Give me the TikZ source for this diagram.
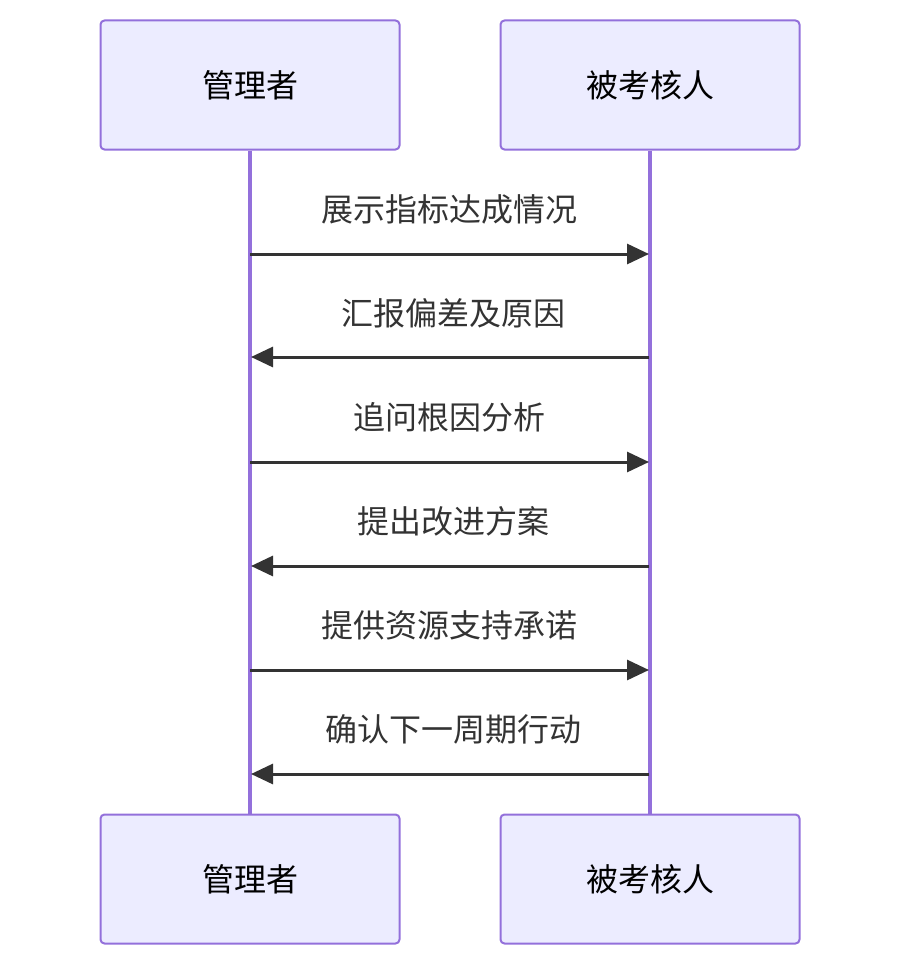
\documentclass[tikz,border=0pt]{standalone}
\usepackage{fontspec}
\setmainfont{Noto Sans CJK SC}
\usepackage{tikz}
\usetikzlibrary{arrows.meta,positioning}
\definecolor{lilac}{HTML}{9370DB}
\definecolor{boxfill}{HTML}{ECECFF}
\definecolor{ink}{HTML}{333333}
\tikzset{
  actor/.style={draw=lilac, line width=2pt, fill=boxfill, rounded corners=4pt, minimum width=299pt, minimum height=129pt, inner sep=0pt, font=\fontsize{32}{37}\selectfont},
  life/.style={draw=lilac, line width=3.5pt},
  msg/.style={draw=ink, line width=3pt, -{Triangle[length=22pt,width=20pt]}},
  mlbl/.style={text=ink, inner sep=0pt, font=\fontsize{32}{37}\selectfont}
}
\begin{document}
\begin{tikzpicture}[x=1pt, y=-1pt]
\useasboundingbox (0,0) rectangle (900,966);
\node[actor] (mgrtop) at (250,85) {管理者};
\node[actor] (evltop) at (650,85) {被考核人};
\node[actor] (mgrbot) at (250,879) {管理者};
\node[actor] (evlbot) at (650,879) {被考核人};
\draw[life] (mgrtop) -- (mgrbot);
\draw[life] (evltop) -- (evlbot);
% messages
\coordinate (m1a) at (250,254); \coordinate (m1b) at (649,254);
\coordinate (m2a) at (649,357); \coordinate (m2b) at (251,357);
\coordinate (m3a) at (250,462); \coordinate (m3b) at (649,462);
\coordinate (m4a) at (649,566); \coordinate (m4b) at (251,566);
\coordinate (m5a) at (250,670); \coordinate (m5b) at (649,670);
\coordinate (m6a) at (649,774); \coordinate (m6b) at (251,774);
\node[mlbl] (l1) at (449,209) {展示指标达成情况};
\node[mlbl] (l2) at (453,313) {汇报偏差及原因};
\node[mlbl] (l3) at (449,417) {追问根因分析};
\node[mlbl] (l4) at (453,521) {提出改进方案};
\node[mlbl] (l5) at (449,625) {提供资源支持承诺};
\node[mlbl] (l6) at (453,729) {确认下一周期行动};
\draw[msg] (m1a) -- (m1b);
\draw[msg] (m2a) -- (m2b);
\draw[msg] (m3a) -- (m3b);
\draw[msg] (m4a) -- (m4b);
\draw[msg] (m5a) -- (m5b);
\draw[msg] (m6a) -- (m6b);
\end{tikzpicture}
\end{document}
